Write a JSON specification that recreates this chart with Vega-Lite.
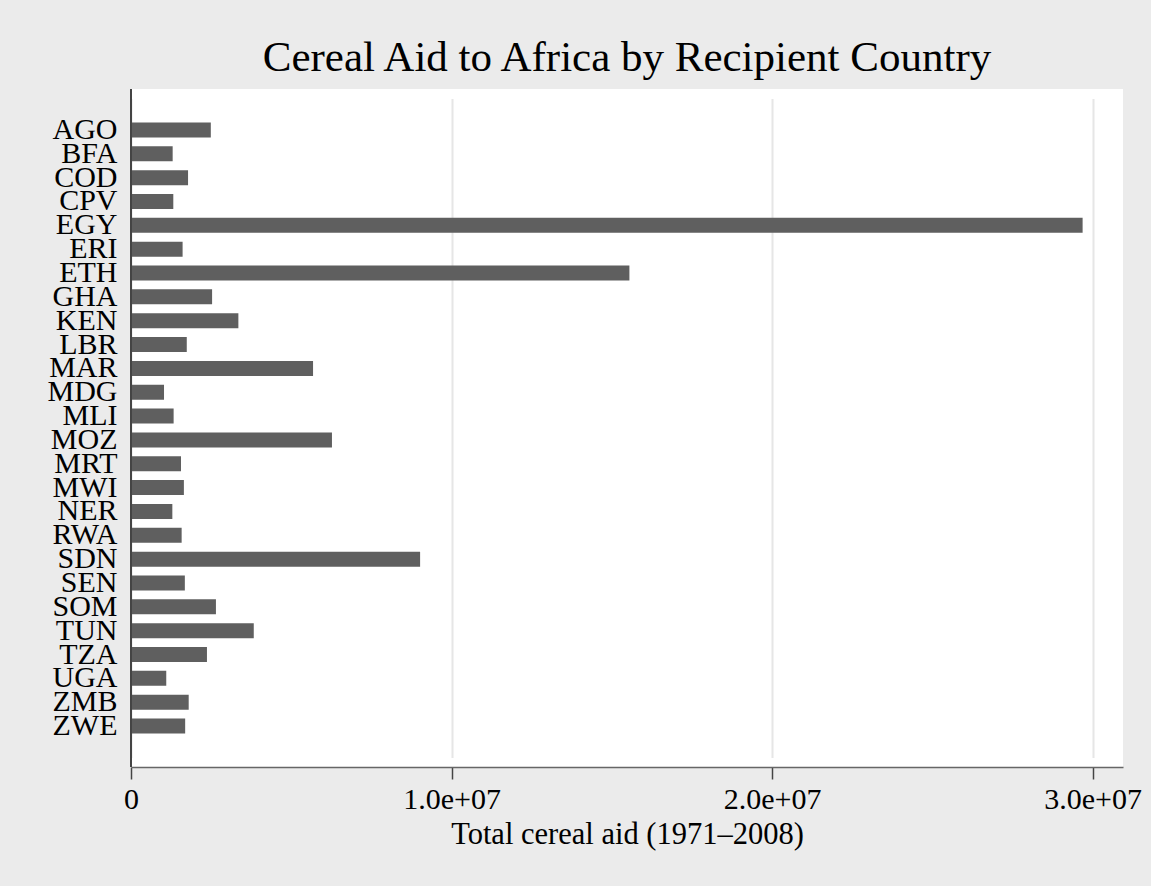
{
  "$schema": "https://vega.github.io/schema/vega-lite/v6.json",
  "autosize": "none",
  "width": 992,
  "height": 678,
  "padding": {"left": 131, "top": 89, "right": 28, "bottom": 119},
  "background": "#ebebeb",
  "view": {"stroke": null, "fill": "white"},
  "title": {
    "text": "Cereal Aid to Africa by Recipient Country",
    "anchor": "middle",
    "font": "Liberation Serif",
    "fontSize": 43,
    "fontWeight": "normal",
    "color": "black",
    "offset": 8
  },
  "data": {
    "values": [
      {"country": "AGO", "aid": 2490000},
      {"country": "BFA", "aid": 1300000},
      {"country": "COD", "aid": 1780000},
      {"country": "CPV", "aid": 1320000},
      {"country": "EGY", "aid": 29690000},
      {"country": "ERI", "aid": 1610000},
      {"country": "ETH", "aid": 15550000},
      {"country": "GHA", "aid": 2530000},
      {"country": "KEN", "aid": 3350000},
      {"country": "LBR", "aid": 1740000},
      {"country": "MAR", "aid": 5680000},
      {"country": "MDG", "aid": 1030000},
      {"country": "MLI", "aid": 1330000},
      {"country": "MOZ", "aid": 6270000},
      {"country": "MRT", "aid": 1560000},
      {"country": "MWI", "aid": 1650000},
      {"country": "NER", "aid": 1290000},
      {"country": "RWA", "aid": 1580000},
      {"country": "SDN", "aid": 9020000},
      {"country": "SEN", "aid": 1680000},
      {"country": "SOM", "aid": 2650000},
      {"country": "TUN", "aid": 3830000},
      {"country": "TZA", "aid": 2370000},
      {"country": "UGA", "aid": 1100000},
      {"country": "ZMB", "aid": 1800000},
      {"country": "ZWE", "aid": 1690000}
    ]
  },
  "layer": [
    {
      "mark": {"type": "bar", "color": "#5f5f5f"},
      "encoding": {
        "y": {
          "field": "country",
          "type": "nominal",
          "sort": "ascending",
          "scale": {"paddingInner": 0.37, "paddingOuter": 1, "range": [9.6, 668.4]},
          "axis": {
            "title": null,
            "ticks": false,
            "grid": false,
            "domain": false,
            "labelFont": "Liberation Serif",
            "labelFontSize": 30,
            "labelColor": "black",
            "labelPadding": 14,
            "labelBaseline": "middle",
            "labelOverlap": false
          }
        },
        "x": {
          "field": "aid",
          "type": "quantitative",
          "scale": {"domain": [0, 30950000], "nice": false, "zero": true},
          "axis": {
            "title": "Total cereal aid (1971–2008)",
            "titleFont": "Liberation Serif",
            "titleFontSize": 30.5,
            "titleFontWeight": "normal",
            "titleColor": "black",
            "titlePadding": 5,
            "values": [0, 10000000, 20000000, 30000000],
            "labelExpr": "datum.value == 0 ? '0' : format(datum.value / 10000000, '.1f') + 'e+07'",
            "labelFont": "Liberation Serif",
            "labelFontSize": 30,
            "labelColor": "black",
            "labelPadding": 5,
            "labelFlush": false,
            "labelOverlap": false,
            "tickSize": 12,
            "tickColor": "#444444",
            "tickWidth": 1.5,
            "domainColor": "#666666",
            "domainWidth": 1.5,
            "grid": true,
            "gridColor": "#e6e6e6",
            "gridWidth": 2
          }
        }
      }
    },
    {
      "mark": {"type": "rule", "color": "#444444", "strokeWidth": 1.5},
      "encoding": {"x": {"datum": 0}}
    }
  ]
}
